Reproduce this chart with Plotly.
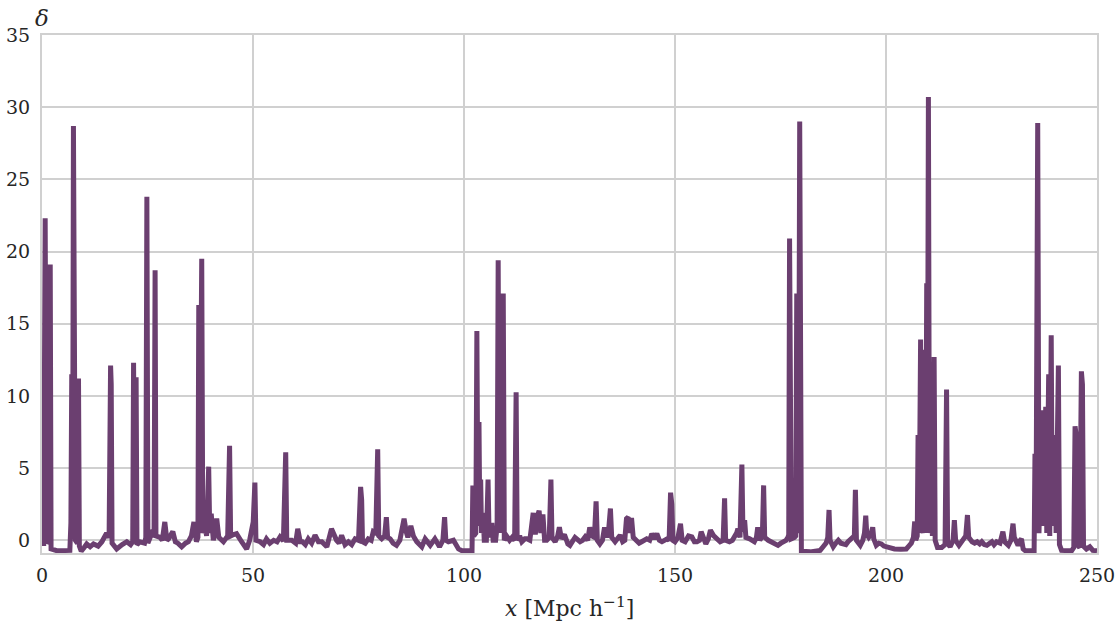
import plotly.graph_objects as go

# Comoving position x [Mpc/h] and density contrast delta
x_pos = [
    0.0, 0.2, 0.4, 0.75, 0.95, 1.15, 1.75, 1.95, 2.15, 3.5,
    6.6, 6.85, 7.05, 7.25, 7.45, 7.7, 7.9, 8.4, 8.65, 8.85,
    9.3, 10.0, 10.6, 11.4, 12.2, 13.3, 14.2, 15.3, 15.9, 16.25,
    16.4, 16.6, 17.7, 19.0, 20.1, 21.0, 21.5, 21.7, 21.95, 22.3,
    22.5, 23.2, 24.3, 24.6, 24.85, 25.1, 25.8, 26.3, 26.55, 26.8,
    27.0, 28.0, 28.5, 29.1, 29.6, 30.0, 31.0, 31.6, 32.2, 33.1,
    34.0, 34.7, 35.4, 36.0, 36.6, 36.95, 37.15, 37.4, 37.85, 38.1,
    38.6, 39.0, 39.5, 39.75, 40.1, 40.6, 41.4, 41.9, 43.0, 44.0,
    44.45, 44.7, 45.4, 46.1, 47.3, 48.5, 49.2, 49.7, 50.05, 50.45,
    50.7, 51.7, 52.5, 53.2, 54.0, 54.9, 55.7, 56.4, 57.2, 57.75,
    58.0, 59.2, 60.1, 60.6, 61.2, 61.7, 62.4, 63.1, 63.9, 64.7,
    65.5, 66.3, 67.5, 68.6, 69.2, 69.8, 70.4, 71.0, 71.8, 72.6,
    73.4, 74.2, 75.0, 75.5, 75.75, 75.95, 76.6, 77.3, 78.0, 78.5,
    79.1, 79.55, 79.8, 80.5, 81.2, 81.6, 81.9, 82.5, 83.2, 84.0,
    84.8, 85.8, 86.3, 86.7, 87.4, 88.0, 88.8, 90.0, 90.8, 92.0,
    93.1, 94.2, 95.0, 95.4, 95.7, 96.3, 97.5, 98.2, 98.7, 99.5,
    101.9, 102.1, 102.3, 102.8, 103.05, 103.3, 103.55, 103.75, 103.95, 104.15,
    104.5, 104.8, 105.3, 105.7, 105.95, 106.6, 106.9, 107.5, 107.85, 108.1,
    108.35, 108.7, 108.95, 109.3, 109.55, 110.1, 110.8, 111.4, 112.0, 112.35,
    112.6, 113.2, 113.7, 114.4, 114.9, 115.6, 116.4, 116.9, 117.3, 117.8,
    118.2, 118.7, 119.1, 119.6, 120.2, 120.6, 120.85, 121.6, 122.2, 122.6,
    123.1, 123.8, 124.6, 125.1, 125.7, 126.3, 127.5, 128.1, 128.7, 129.3,
    129.8, 130.3, 130.9, 131.3, 131.6, 132.2, 132.8, 133.3, 133.8, 134.3,
    134.7, 135.0, 135.8, 136.4, 137.0, 137.6, 138.1, 138.5, 138.9, 139.3,
    139.7, 140.1, 140.9, 141.5, 142.1, 142.7, 143.3, 144.0, 144.5, 145.1,
    145.7, 146.3, 146.9, 147.5, 148.1, 148.6, 148.95, 149.25, 149.5, 150.0,
    150.7, 151.3, 151.7, 152.4, 153.2, 154.0, 154.6, 155.2, 155.8, 156.2,
    156.8, 157.3, 157.9, 158.4, 159.2, 159.9, 160.7, 161.4, 161.75, 162.0,
    162.9, 163.6, 164.2, 164.6, 164.9, 165.4, 165.85, 166.1, 166.5, 166.8,
    167.7, 168.2, 168.8, 169.3, 169.6, 170.1, 170.7, 171.0, 171.25, 172.1,
    172.7, 173.3, 174.4, 175.1, 175.7, 176.3, 176.8, 176.95, 177.15, 177.35,
    177.55, 178.3, 178.6, 178.85, 179.05, 179.3, 179.55, 179.75, 179.95, 182.0,
    184.4, 185.1, 185.8, 186.2, 186.5, 186.75, 187.5, 188.1, 188.7, 189.3,
    189.9, 190.5, 191.0, 191.5, 192.0, 192.5, 192.75, 193.0, 193.9, 194.5,
    194.9, 195.2, 195.45, 195.9, 196.4, 196.85, 197.1, 197.7, 198.3, 198.9,
    199.5, 200.1, 201.0, 202.0, 203.5, 204.8, 205.4, 206.0, 206.5, 206.8,
    207.05, 207.4, 207.6, 207.85, 208.2, 208.45, 208.8, 209.15, 209.4, 209.65,
    209.8, 210.05, 210.3, 210.7, 211.0, 211.4, 211.65, 212.2, 213.2, 214.0,
    214.35, 214.6, 215.2, 215.9, 216.2, 216.5, 217.3, 218.3, 218.9, 219.3,
    219.6, 220.4, 221.0, 221.6, 222.2, 222.7, 223.3, 223.9, 224.5, 225.1,
    225.6, 226.2, 227.0, 227.4, 227.7, 228.1, 229.0, 229.6, 230.1, 230.4,
    231.3, 231.8, 232.1, 232.5, 233.0, 235.1, 235.3, 235.55, 235.95, 236.25,
    236.95, 237.25, 237.85, 238.1, 238.55, 238.8, 239.15, 239.4, 240.05, 240.3,
    240.85, 241.1, 241.6, 244.0, 244.5, 244.8, 245.05, 245.3, 245.9, 246.3,
    246.55, 246.8, 247.5, 248.3, 249.0, 250.0,
]

delta = [
    0.3, 3.2, -0.4, 22.3, 8.0, -0.2, 0.0, 19.1, -0.6, -0.72,
    -0.7, 1.2, 11.5, 0.2, 28.7, 12.6, 0.0, -0.2, 11.2, -0.4,
    -0.75, -0.5, -0.25, -0.45, -0.25, -0.4, -0.1, 0.5, 0.2, 12.1,
    10.8, -0.2, -0.6, -0.3, -0.1, -0.3, -0.1, 12.3, 0.2, 11.3,
    -0.3, -0.1, -0.2, 0.2, 23.8, -0.2, 0.3, 0.7, 0.2, 18.7,
    0.3, 0.2, 0.0, 1.27, 0.0, 0.1, 0.6, -0.1, -0.2, -0.45,
    -0.2, -0.1, 0.3, 1.27, -0.1, 0.2, 16.3, 1.0, 19.5, 0.5,
    1.0, 0.3, 5.1, 0.5, 1.85, 0.0, 1.5, 0.2, -0.1, 0.3,
    6.55, 0.3, 0.4, 0.46, -0.1, -0.6, 0.0, 0.7, 1.27, 4.0,
    0.0, -0.1, -0.3, 0.1, -0.2, 0.0, -0.1, 0.23, -0.05, 6.1,
    0.0, 0.0, -0.2, 0.8, -0.1, -0.1, -0.3, 0.1, -0.2, 0.35,
    -0.1, -0.1, -0.45, 0.8, 0.3, 0.0, -0.2, 0.35, -0.3, -0.1,
    -0.3, 0.1, 0.0, 3.7, 2.8, -0.1, -0.2, 0.1, 0.0, 0.6,
    0.5, 6.3, 0.3, 0.1, 0.3, 1.6, 0.2, 0.1, -0.2, -0.35,
    0.0, 1.5, 0.6, 0.2, 1.0, 0.3, -0.1, -0.45, 0.1, -0.35,
    0.1, -0.45, 0.0, 1.6, 0.0, -0.1, 0.0, -0.3, -0.6, -0.72,
    -0.72, 3.8, 0.3, 0.5, 14.5, 1.5, 8.2, 1.0, 4.2, 0.5,
    1.9, 0.0, 0.0, 4.2, 0.2, 1.2, 0.0, 0.0, 1.0, 19.4,
    0.5, 9.0, 0.5, 17.1, 0.0, 0.3, 0.0, 0.2, 0.0, 10.25,
    0.0, 0.3, -0.1, 0.1, 0.1, 0.0, 1.9, 0.4, 1.6, 2.05,
    0.5, 1.8, 0.0, 0.0, 0.2, 4.2, 0.2, -0.1, 0.3, 0.9,
    0.1, 0.4, -0.25, -0.35, 0.0, 0.2, -0.1, 0.0, 0.23, 0.0,
    0.9, 0.3, 0.2, 2.7, 0.0, -0.25, 0.0, 0.9, 0.2, 0.8,
    2.2, 0.2, -0.1, 0.2, 0.35, -0.1, 0.0, 1.5, 1.6, 0.5,
    1.55, 0.2, 0.0, -0.2, -0.1, 0.0, 0.1, 0.0, 0.46, 0.1,
    0.46, 0.0, -0.1, 0.0, 0.1, 0.0, 3.3, 2.5, 0.0, -0.1,
    0.2, 1.15, 0.0, -0.1, 0.3, 0.23, -0.1, -0.1, 0.0, 0.6,
    0.0, -0.25, 0.1, 0.7, 0.3, 0.1, -0.1, 0.0, 2.9, 0.0,
    -0.1, 0.0, 0.23, 0.5, 0.8, 0.2, 5.25, 0.6, 1.4, 0.2,
    0.1, 0.0, -0.1, 0.2, 0.9, 0.0, 0.3, 3.8, 0.2, 0.0,
    -0.1, -0.25, -0.35, -0.2, -0.1, 0.0, 0.23, 0.4, 20.9, 13.2,
    0.1, 0.2, 0.3, 17.1, 0.5, 4.0, 29.0, 4.0, -0.75, -0.8,
    -0.7, -0.45, -0.2, 0.2, 2.1, 0.0, -0.45, -0.2, 0.0, -0.2,
    -0.25, -0.3, -0.1, 0.0, 0.1, 0.3, 3.5, 0.0, -0.35, 0.0,
    0.5, 1.7, 0.4, 0.2, 0.4, 0.9, 0.1, -0.35, -0.2, -0.25,
    -0.4, -0.45, -0.55, -0.6, -0.62, -0.6, -0.4, -0.2, 0.2, 1.3,
    0.0, 0.3, 7.3, 0.5, 13.9, 1.0, 0.5, 13.2, 0.5, 17.8,
    2.0, 30.7, 0.5, 3.0, 0.3, 12.7, 0.0, -0.5, -0.5, -0.3,
    10.45, -0.2, -0.45, 0.0, 1.4, 0.0, -0.35, 0.0, 0.3, 1.75,
    0.2, -0.1, -0.2, -0.1, -0.25, -0.1, -0.3, -0.35, -0.2, -0.1,
    -0.3, -0.1, -0.2, 0.2, 0.6, -0.1, -0.35, 0.0, 1.15, 0.2,
    -0.35, 0.0, 0.1, -0.6, -0.72, -0.72, 6.0, 1.0, 28.9, 0.5,
    9.0, 1.0, 9.25, 0.5, 11.5, 0.3, 14.2, 1.0, 7.3, 0.5,
    12.1, -0.3, -0.7, -0.72, -0.5, 7.9, 7.3, -0.3, -0.5, 11.7,
    10.8, -0.4, -0.6, -0.45, -0.7, -0.72,
]

assert len(x_pos) == len(delta)

x_ticks = [0, 50, 100, 150, 200, 250]
y_ticks = [0, 5, 10, 15, 20, 25, 30, 35]

LINE_COLOR = "#6b3f70"
GRID_COLOR = "#d0d0d0"
TEXT_COLOR = "#262626"
FONT = "DejaVu Serif, Liberation Serif, serif"

fig = go.Figure()
fig.add_trace(go.Scatter(
    x=x_pos, y=delta, mode="lines",
    line=dict(color=LINE_COLOR, width=5),
    showlegend=False,
))

axis_common = dict(
    showgrid=True, gridcolor=GRID_COLOR, gridwidth=2,
    zeroline=False, showline=True, linecolor=GRID_COLOR, linewidth=2,
    mirror=True, ticks="", automargin=False,
    tickfont=dict(family=FONT, size=19, color=TEXT_COLOR),
)

fig.update_layout(
    width=1120, height=631,
    margin=dict(l=42, r=23, t=35, b=78),
    paper_bgcolor="white", plot_bgcolor="white",
    font=dict(family=FONT, color=TEXT_COLOR),
    xaxis=dict(range=[0, 250], tickvals=x_ticks, ticklabelstandoff=4,
               **axis_common),
    yaxis=dict(range=[-0.88, 35], tickvals=y_ticks, ticklabelstandoff=6,
               **axis_common),
    annotations=[
        dict(text="<i>δ</i>", xref="paper", yref="paper", x=0, y=1,
             xanchor="center", yanchor="bottom", yshift=2, showarrow=False,
             font=dict(family=FONT, size=23, color=TEXT_COLOR)),
        dict(text="<i>x</i> [Mpc h<sup>−1</sup>]", xref="paper", yref="paper",
             x=0.5, y=0, xanchor="center", yanchor="middle", yshift=-54,
             showarrow=False,
             font=dict(family=FONT, size=22, color=TEXT_COLOR)),
    ],
)

fig.write_html("out.html")
